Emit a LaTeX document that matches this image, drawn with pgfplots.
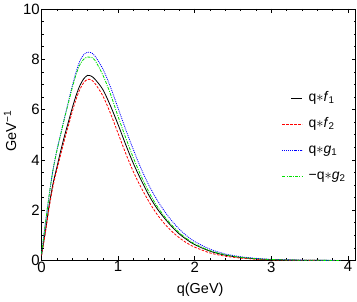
\documentclass[border=0pt]{standalone}
\usepackage{fontspec}
\setmainfont{Liberation Sans}
\usepackage{pgfplots}
\pgfplotsset{compat=1.18}
\usepackage{pgfplotstable}
\definecolor{lgreen}{rgb}{0,0.88,0}
\pgfplotsset{shortleg/.style={legend image code/.code={\draw[##1] (9bp,0bp) -- (20bp,0bp);}}}

\pgfplotstableread{
q f1 f2 g1 g2
0.00 0.20 0.20 0.25 0.25
0.05 1.15 1.10 1.45 1.45
0.10 2.20 2.10 2.60 2.60
0.15 3.05 2.95 3.60 3.60
0.20 3.70 3.60 4.38 4.35
0.25 4.35 4.20 5.03 5.00
0.30 4.95 4.80 5.68 5.65
0.35 5.50 5.35 6.30 6.25
0.40 6.05 5.90 6.92 6.85
0.45 6.55 6.40 7.48 7.38
0.50 6.95 6.80 7.93 7.78
0.55 7.22 7.07 8.18 8.00
0.60 7.36 7.20 8.28 8.09
0.65 7.33 7.18 8.26 8.08
0.70 7.20 7.03 8.12 7.95
0.80 6.80 6.55 7.62 7.38
0.90 6.15 5.85 6.90 6.62
1.00 5.40 5.05 6.05 5.72
1.10 4.60 4.25 5.20 4.87
1.20 3.85 3.52 4.40 4.07
1.30 3.20 2.90 3.65 3.36
1.40 2.60 2.35 3.00 2.73
1.50 2.10 1.87 2.45 2.20
1.60 1.70 1.48 1.98 1.77
1.70 1.35 1.16 1.58 1.41
1.80 1.05 0.90 1.24 1.10
1.90 0.82 0.69 0.97 0.86
2.00 0.63 0.53 0.75 0.66
2.20 0.37 0.30 0.45 0.39
2.40 0.21 0.17 0.26 0.23
2.60 0.12 0.095 0.15 0.13
2.80 0.065 0.05 0.085 0.07
3.00 0.035 0.027 0.045 0.038
3.30 0.015 0.011 0.02 0.016
3.60 0.006 0.004 0.008 0.007
3.90 0.002 0.001 0.003 0.002
}\datatable

\begin{document}
\begin{tikzpicture}
\begin{axis}[
  scale only axis,
  width=314.2bp, height=251.5bp,
  xmin=0, xmax=4.1, ymin=0, ymax=10,
  xtick={0,1,2,3,4}, ytick={0,2,4,6,8,10},
  minor xtick={0.2,0.4,...,4.0},
  minor ytick={0.5,1,...,9.5},
  tick align=inside,
  major tick length=4bp, minor tick length=2.2bp,
  axis line style={line width=0.8bp},
  every tick/.style={black, line width=0.6bp},
  tick label style={font=\fontsize{15}{17}\selectfont},
  xticklabel style={inner sep=1bp},
  yticklabel style={inner sep=1.5bp},
  /pgf/number format/assume math mode=true,
  xlabel={q(GeV)},
  ylabel={GeV\textsuperscript{−1}},
  xlabel style={font=\fontsize{14.5}{16}\selectfont, at={(axis description cs:0.505,-0.117)}, anchor=center},
  ylabel style={font=\fontsize{14.5}{16}\selectfont, at={(axis description cs:-0.1,0.515)}, anchor=center},
  legend style={draw=none, fill=none, at={(axis description cs:0.755,0.685)}, anchor=north west,
    font=\fontsize{14}{16}\selectfont, row sep=11bp, column sep=5bp,
    nodes={inner sep=1bp, text height=10bp, text depth=3bp}},
  legend cell align=left,
  legend image code/.code={\draw[mark repeat=2,mark phase=2,#1] plot coordinates {(0bp,0bp) (10bp,0bp) (20bp,0bp)};},
]
\addplot[color=black, line width=0.8bp, smooth, shortleg] table[x=q, y=f1] {\datatable};
\addlegendentry{q$\ast$\textit{f}\textsubscript{1}}
\addplot[color=red, line width=0.8bp, dash pattern=on 2.5bp off 1.5bp, smooth] table[x=q, y=f2] {\datatable};
\addlegendentry{q$\ast$\textit{f}\textsubscript{2}}
\addplot[color=blue, line width=0.8bp, dash pattern=on 1bp off 1bp, smooth] table[x=q, y=g1] {\datatable};
\addlegendentry{q$\ast$\textit{g}\textsubscript{1}}
\addplot[color=lgreen, line width=0.8bp, dash pattern=on 3bp off 1.2bp on 1bp off 1.2bp, smooth] table[x=q, y=g2] {\datatable};
\addlegendentry{−q$\ast$\textit{g}\textsubscript{2}}
\end{axis}
\pgfresetboundingbox
\path ([xshift=-41.5bp,yshift=-41.5bp]current axis.south west) rectangle ([xshift=1.3bp,yshift=9bp]current axis.north east);
\end{tikzpicture}
\end{document}
